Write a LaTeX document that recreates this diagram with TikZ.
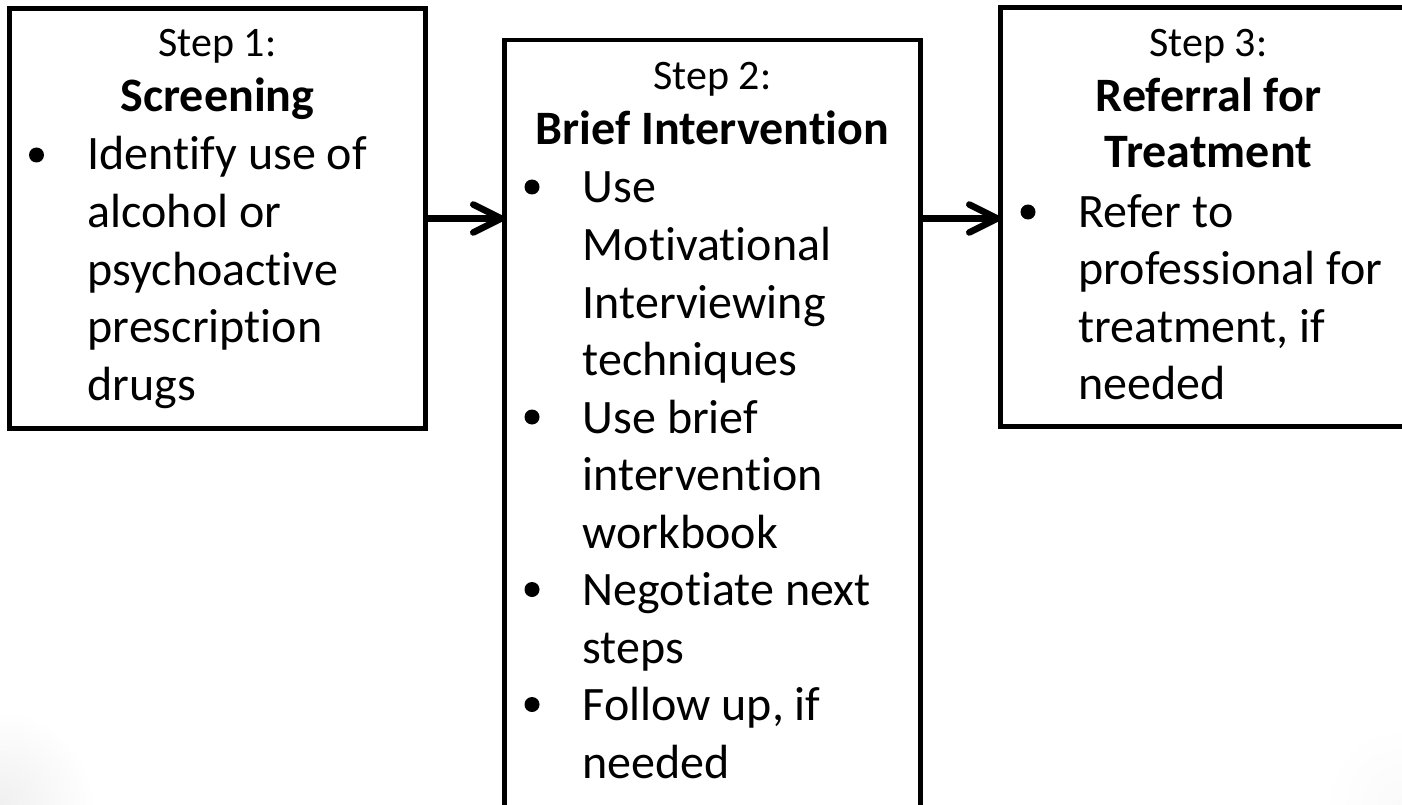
\documentclass[tikz,border=0pt]{standalone}
\usepackage{fontspec}
\setmainfont{Carlito}[Ligatures=NoCommon, Contextuals=NoAlternate]
\usetikzlibrary{arrows.meta}

% one body-text line per node, baselines 57.5pt apart
\newcommand\bodylines[4]{%
  \foreach \txt [count=\k from 0] in {#4}
    \node[body] (#1-\k) at (#2, {#3+57.5*\k}) {\txt};}

\tikzset{
  stepbox/.style={draw, line width=4.5pt, fill=white, inner sep=0pt, outer sep=0pt, anchor=north west},
  head/.style={font=\fontsize{42}{50}\selectfont, inner sep=0pt, anchor=base},
  title/.style={font=\bfseries\fontsize{48}{58}\selectfont, inner sep=0pt, anchor=base},
  body/.style={font=\fontsize{48}{58}\selectfont, inner sep=0pt, anchor=base west},
  bulletdot/.style={circle, fill=black, inner sep=0pt, minimum size=15pt},
  flow/.style={line width=6.5pt, -{Straight Barb[length=28pt,width=28pt,round]}}
}

\begin{document}
\begin{tikzpicture}[x=1pt, y=-1pt]
  \useasboundingbox (0,0) rectangle (1402,805);
  \clip (0,0) rectangle (1402,805);
  \fill[white] (0,0) rectangle (1402,805);
  % soft corner shading
  \shade[inner color=black!6, outer color=white] (0,805) circle (95);
  \shade[inner color=black!2, outer color=white] (1402,805) circle (80);

  % the three steps
  \node[stepbox, minimum width=416pt, minimum height=420pt] (s1) at (9.5,8.5) {};
  \node[stepbox, minimum width=416pt, minimum height=800pt] (s2) at (504.5,40) {};
  \node[stepbox, minimum width=440pt, minimum height=419pt] (s3) at (1000.5,7.5) {};

  % Step 1
  \node[head]  (s1-step)  at (217.5,57)  {Step 1:};
  \node[title] (s1-title) at (217.5,112) {Screening};
  \node[bulletdot] (s1-b1) at (36.5,155) {};
  \bodylines{s1-i1}{87.5}{170}{Identify use of, alcohol or, psychoactive, prescription, drugs}

  % Step 2
  \node[head]  (s2-step)  at (712.5,90)  {Step 2:};
  \node[title] (s2-title) at (712.5,145) {Brief Intervention};
  \node[bulletdot] (s2-b1) at (532,187) {};
  \bodylines{s2-i1}{582.5}{203}{Use, Motivational, Interviewing, techniques}
  \node[bulletdot] (s2-b2) at (532,417) {};
  \bodylines{s2-i2}{582.5}{433}{Use brief, intervention, workbook}
  \node[bulletdot] (s2-b3) at (532,589.5) {};
  \bodylines{s2-i3}{582.5}{605.5}{Negotiate next, steps}
  \node[bulletdot] (s2-b4) at (532,704.5) {};
  \bodylines{s2-i4}{582.5}{720.5}{{Follow up, if}, needed}

  % Step 3
  \node[head]  (s3-step)   at (1208.5,57)  {Step 3:};
  \node[title] (s3-title1) at (1208.5,112) {Referral for};
  \node[title] (s3-title2) at (1208.5,168) {Treatment};
  \node[bulletdot] (s3-b1) at (1028,212) {};
  \bodylines{s3-i1}{1078.5}{227}{Refer to, professional for, {treatment, if}, needed}

  % connectors
  \draw[flow] (s1.east) -- (s2.west |- s1.east);
  \draw[flow] (s2.east |- s1.east) -- (s3.west |- s1.east);
\end{tikzpicture}
\end{document}
